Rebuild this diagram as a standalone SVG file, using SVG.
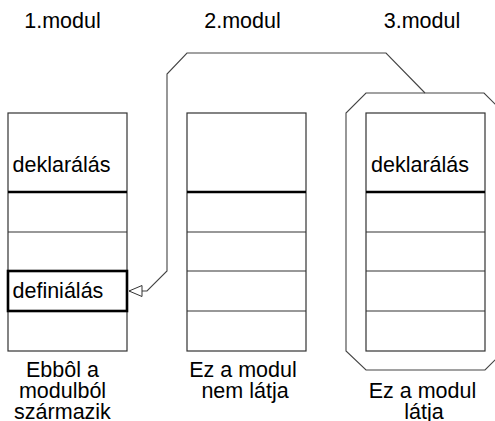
<svg xmlns="http://www.w3.org/2000/svg" width="495" height="421" viewBox="0 0 495 421">
<defs>
<style>
text{font-family:"Liberation Sans",Arial,sans-serif;font-size:21.5px;fill:#000}
.c{text-anchor:middle}
.box{fill:#fff;stroke:#333;stroke-width:1.2}
.row{stroke:#333;stroke-width:1.2}
.thick{stroke:#000;stroke-width:2.6}
.line{fill:none;stroke:#444;stroke-width:1.1}
</style>
<marker id="arr" markerWidth="16" markerHeight="14" refX="14" refY="6" orient="auto" markerUnits="userSpaceOnUse">
<path d="M14,6 L1,0.5 L1,11.5 Z" fill="#fff" stroke="#333" stroke-width="1"/>
</marker>
</defs>
<rect width="495" height="421" fill="#fff"/>

<g id="scope3">
<path class="line" d="M366,93 L484,93 L504,113 L504,351 L485,370 L366,370 L346,351 L346,113 Z"/>
</g>

<g id="module1">
<text class="c" x="62.5" y="28">1.modul</text>
<rect class="box" x="8" y="113" width="119" height="238"/>
<line class="thick" x1="8" y1="192" x2="127" y2="192"/>
<line class="row" x1="8" y1="232" x2="127" y2="232"/>
<rect x="8" y="271" width="119" height="40" fill="none" stroke="#000" stroke-width="2.6"/>
<text x="12.5" y="172">deklarálás</text>
<text x="12.5" y="298">definiálás</text>
<text class="c" x="62.5" y="377">Ebbôl a</text>
<text class="c" x="62.5" y="398">modulból</text>
<text class="c" x="62.5" y="419">származik</text>
</g>

<g id="module2">
<text class="c" x="242.5" y="28">2.modul</text>
<rect class="box" x="187" y="113" width="119" height="238"/>
<line class="thick" x1="187" y1="192" x2="306" y2="192"/>
<line class="row" x1="187" y1="232" x2="306" y2="232"/>
<line class="row" x1="187" y1="271" x2="306" y2="271"/>
<line class="row" x1="187" y1="311" x2="306" y2="311"/>
<text class="c" x="243" y="377">Ez a modul</text>
<text class="c" x="245" y="398">nem látja</text>
</g>

<g id="module3">
<text class="c" x="422" y="28">3.modul</text>
<rect class="box" x="366" y="113" width="119" height="238"/>
<line class="thick" x1="366" y1="192" x2="485" y2="192"/>
<line class="row" x1="366" y1="232" x2="485" y2="232"/>
<line class="row" x1="366" y1="271" x2="485" y2="271"/>
<line class="row" x1="366" y1="311" x2="485" y2="311"/>
<text x="371" y="172">deklarálás</text>
<text class="c" x="422.5" y="398">Ez a modul</text>
<text class="c" x="424" y="419">látja</text>
</g>

<g id="connectors">
<path class="line" d="M425,93 L386,53 L187,53 L167,74 L167,271 L147,291 L129,291" marker-end="url(#arr)"/>
</g>
</svg>
